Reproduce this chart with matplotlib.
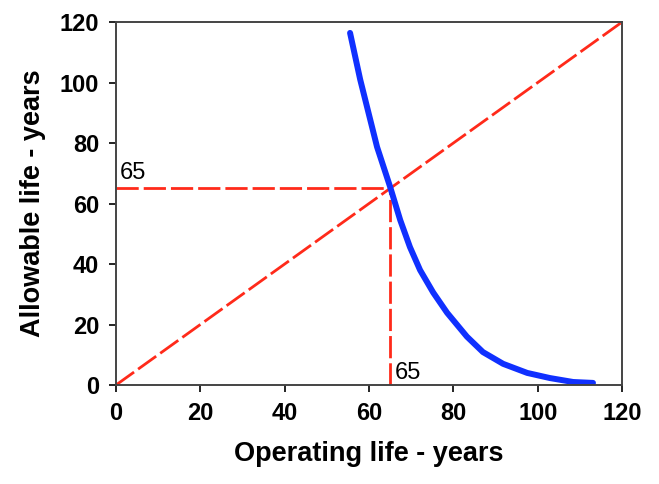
import matplotlib
matplotlib.use("Agg")
import matplotlib.pyplot as plt

# Data
operating_life = [55.5, 57.9, 61.9, 65.0, 67.4, 69.7, 72.1, 75.2, 78.5,
                  83.2, 87.0, 91.8, 97.5, 102.9, 108.4, 113.1]
allowable_life = [116.4, 101.0, 78.7, 65.5, 54.5, 45.6, 38.0, 30.6, 23.9,
                  16.0, 10.9, 7.0, 4.0, 2.3, 1.0, 0.7]
diag_x = [0, 120]
diag_y = [0, 120]
cross_value = 65
x_ticks = [0, 20, 40, 60, 80, 100, 120]
y_ticks = [0, 20, 40, 60, 80, 100, 120]

plt.rcParams['font.family'] = ['Liberation Sans', 'DejaVu Sans']

fig = plt.figure(figsize=(6.59, 4.84), dpi=100)
ax = fig.add_axes([0.176, 0.2045, 0.768, 0.75])

red = '#ff2a1a'
dash = (0, (8, 1.8))
ax.plot(diag_x, diag_y, color=red, lw=2, linestyle=dash)
ax.plot([0, cross_value], [cross_value, cross_value], color=red, lw=2, linestyle=dash)
ax.plot([cross_value, cross_value], [0, cross_value], color=red, lw=2, linestyle=dash)
ax.plot(operating_life, allowable_life, color='#1030ff', lw=4.3,
        solid_capstyle='round', solid_joinstyle='round')

ax.text(1, 66.5, str(cross_value), fontsize=17, ha='left', va='bottom')
ax.text(66, 0.5, str(cross_value), fontsize=17, ha='left', va='bottom')

ax.set_xlim(0, 120)
ax.set_ylim(0, 120)
ax.set_xticks(x_ticks)
ax.set_yticks(y_ticks)
ax.tick_params(direction='out', length=5, width=1.2, labelsize=17, pad=7)
for lbl in ax.get_xticklabels() + ax.get_yticklabels():
    lbl.set_fontweight('bold')
for s in ax.spines.values():
    s.set_color('#444444')
    s.set_linewidth(1.4)
ax.set_xlabel('Operating life - years', fontsize=19.5, fontweight='bold', labelpad=12)
ax.set_ylabel('Allowable life - years', fontsize=19.5, fontweight='bold', labelpad=10)

fig.savefig('out.png', dpi=100)
